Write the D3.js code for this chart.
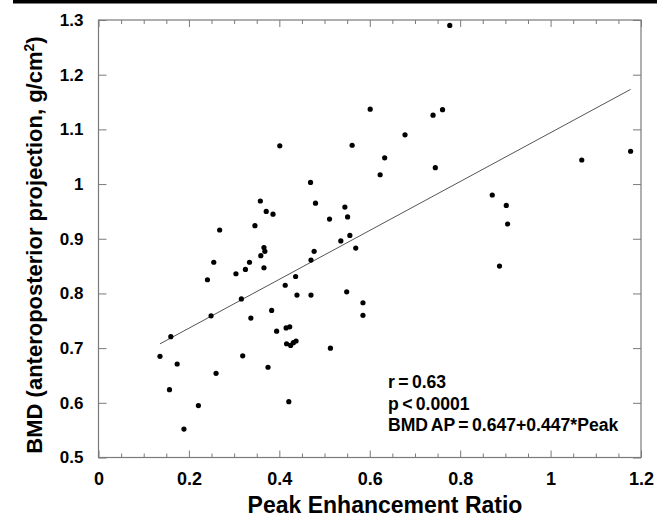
<!DOCTYPE html>
<html>
<head>
<meta charset="utf-8">
<script src="https://cdn.jsdelivr.net/npm/d3@7"></script>
<style>
  body { margin: 0; background: #fff; }
  svg text { font-family: "Liberation Sans", Arial, sans-serif; font-weight: bold; fill: #000; }
</style>
</head>
<body>
<svg id="chart" width="657" height="517"></svg>
<script>
// peak enhancement ratio (x) and BMD AP (y)
const peak = [0.401, 0.358, 0.371, 0.386, 0.346, 0.268, 0.366, 0.368, 0.359, 0.777,
    0.601, 0.740, 0.761, 0.678, 0.561, 0.633, 0.623, 0.745, 0.469, 0.480,
    0.545, 0.551, 0.511, 0.536, 0.556, 0.569, 0.477, 0.470, 1.069, 1.177,
    0.871, 0.902, 0.905, 0.887, 0.255, 0.241, 0.304, 0.325, 0.334, 0.366,
    0.413, 0.316, 0.383, 0.249, 0.337, 0.160, 0.394, 0.415, 0.423, 0.416,
    0.425, 0.431, 0.437, 0.136, 0.174, 0.319, 0.375, 0.260, 0.157, 0.221,
    0.421, 0.189, 0.436, 0.439, 0.470, 0.549, 0.585, 0.585, 0.513];
const bmd = [1.070, 0.969, 0.950, 0.945, 0.924, 0.916, 0.884, 0.877, 0.869, 1.290,
    1.137, 1.126, 1.136, 1.090, 1.071, 1.048, 1.017, 1.030, 1.003, 0.965,
    0.958, 0.940, 0.936, 0.896, 0.906, 0.883, 0.877, 0.861, 1.044, 1.060,
    0.980, 0.961, 0.927, 0.850, 0.857, 0.825, 0.836, 0.844, 0.857, 0.847,
    0.815, 0.790, 0.769, 0.759, 0.755, 0.721, 0.731, 0.737, 0.739, 0.708,
    0.705, 0.710, 0.713, 0.685, 0.671, 0.686, 0.665, 0.654, 0.624, 0.595,
    0.602, 0.552, 0.831, 0.797, 0.797, 0.803, 0.783, 0.760, 0.700];

const xTicks = [0, 0.2, 0.4, 0.6, 0.8, 1, 1.2];
const yTicks = [0.5, 0.6, 0.7, 0.8, 0.9, 1, 1.1, 1.2, 1.3];
const fitIntercept = 0.647, fitSlope = 0.447;
const statLines = ["r = 0.63", "p < 0.0001", "BMD AP = 0.647+0.447*Peak"];

const plotLeft = 98.5, plotRight = 641, plotTop = 20, plotBottom = 457.5;
const axisColor = "#7a7a7a";

const svg = d3.select("#chart");

const x = d3.scaleLinear().domain([0, 1.2]).range([plotLeft, plotRight]);
const y = d3.scaleLinear().domain([0.5, 1.3]).range([plotBottom, plotTop]);

// black rule at the very top
svg.append("rect").attr("x", 13).attr("y", 0).attr("width", 644).attr("height", 3.5).attr("fill", "#000");

const minorX = d3.range(0, 1.2001, 0.05).filter(v => !xTicks.some(t => Math.abs(t - v) < 1e-6));

function styleAxis(g) {
    g.select(".domain").remove();
    g.selectAll(".tick line").attr("stroke", axisColor).attr("stroke-width", 1);
    g.selectAll(".tick text").attr("fill", "#000");
}

// bottom axis with labels, ticks pointing inward
svg.append("g")
    .attr("transform", `translate(0,${plotBottom})`)
    .call(d3.axisBottom(x).tickValues(xTicks).tickSize(-7).tickPadding(15).tickFormat(d3.format("")))
    .call(styleAxis)
    .call(g => g.selectAll("text").attr("font-size", 18).attr("font-family", null));

svg.append("g")
    .attr("transform", `translate(0,${plotBottom})`)
    .call(d3.axisBottom(x).tickValues(minorX).tickSize(-4).tickFormat(""))
    .call(styleAxis);

// top axis, ticks only
svg.append("g")
    .attr("transform", `translate(0,${plotTop})`)
    .call(d3.axisTop(x).tickValues(xTicks).tickSize(-7).tickFormat(""))
    .call(styleAxis);

svg.append("g")
    .attr("transform", `translate(0,${plotTop})`)
    .call(d3.axisTop(x).tickValues(minorX).tickSize(-4).tickFormat(""))
    .call(styleAxis);

// left axis with labels
svg.append("g")
    .attr("transform", `translate(${plotLeft},0)`)
    .call(d3.axisLeft(y).tickValues(yTicks).tickSize(-8).tickPadding(15).tickFormat(d3.format("")))
    .call(styleAxis)
    .call(g => g.selectAll("text").attr("font-size", 17).attr("font-family", null));

// right axis, ticks only
svg.append("g")
    .attr("transform", `translate(${plotRight},0)`)
    .call(d3.axisRight(y).tickValues(yTicks).tickSize(-8).tickFormat(""))
    .call(styleAxis);

// frame
svg.append("rect")
    .attr("x", plotLeft).attr("y", plotTop)
    .attr("width", plotRight - plotLeft).attr("height", plotBottom - plotTop)
    .attr("fill", "none").attr("stroke", axisColor).attr("stroke-width", 1.2);

// regression line over the data range
const xMin = d3.min(peak), xMax = d3.max(peak);
svg.append("line")
    .attr("x1", x(xMin)).attr("y1", y(fitIntercept + fitSlope * xMin))
    .attr("x2", x(xMax)).attr("y2", y(fitIntercept + fitSlope * xMax))
    .attr("stroke", "#555").attr("stroke-width", 1);

// points
svg.selectAll("circle.pt")
    .data(peak.map((p, i) => [p, bmd[i]]))
    .enter()
    .append("circle")
    .attr("class", "pt")
    .attr("cx", d => x(d[0]))
    .attr("cy", d => y(d[1]))
    .attr("r", 2.6)
    .attr("fill", "#000");

// stats text
svg.selectAll("text.stat")
    .data(statLines)
    .enter()
    .append("text")
    .attr("class", "stat")
    .attr("x", 388)
    .attr("y", (d, i) => 388 + i * 21.7)
    .attr("font-size", 17.6)
    .attr("word-spacing", "-1.5px")
    .text(d => d);

// axis titles
svg.append("text")
    .attr("x", 385)
    .attr("y", 513)
    .attr("text-anchor", "middle")
    .attr("font-size", 23)
    .text("Peak Enhancement Ratio");

const yTitle = svg.append("text")
    .attr("transform", "translate(42,245) rotate(-90)")
    .attr("text-anchor", "middle")
    .attr("font-size", 22);
yTitle.append("tspan").text("BMD (anteroposterior projection, g/cm");
yTitle.append("tspan").attr("font-size", 14).attr("dy", -8).text("2");
yTitle.append("tspan").attr("dy", 8).text(")");
</script>
</body>
</html>
